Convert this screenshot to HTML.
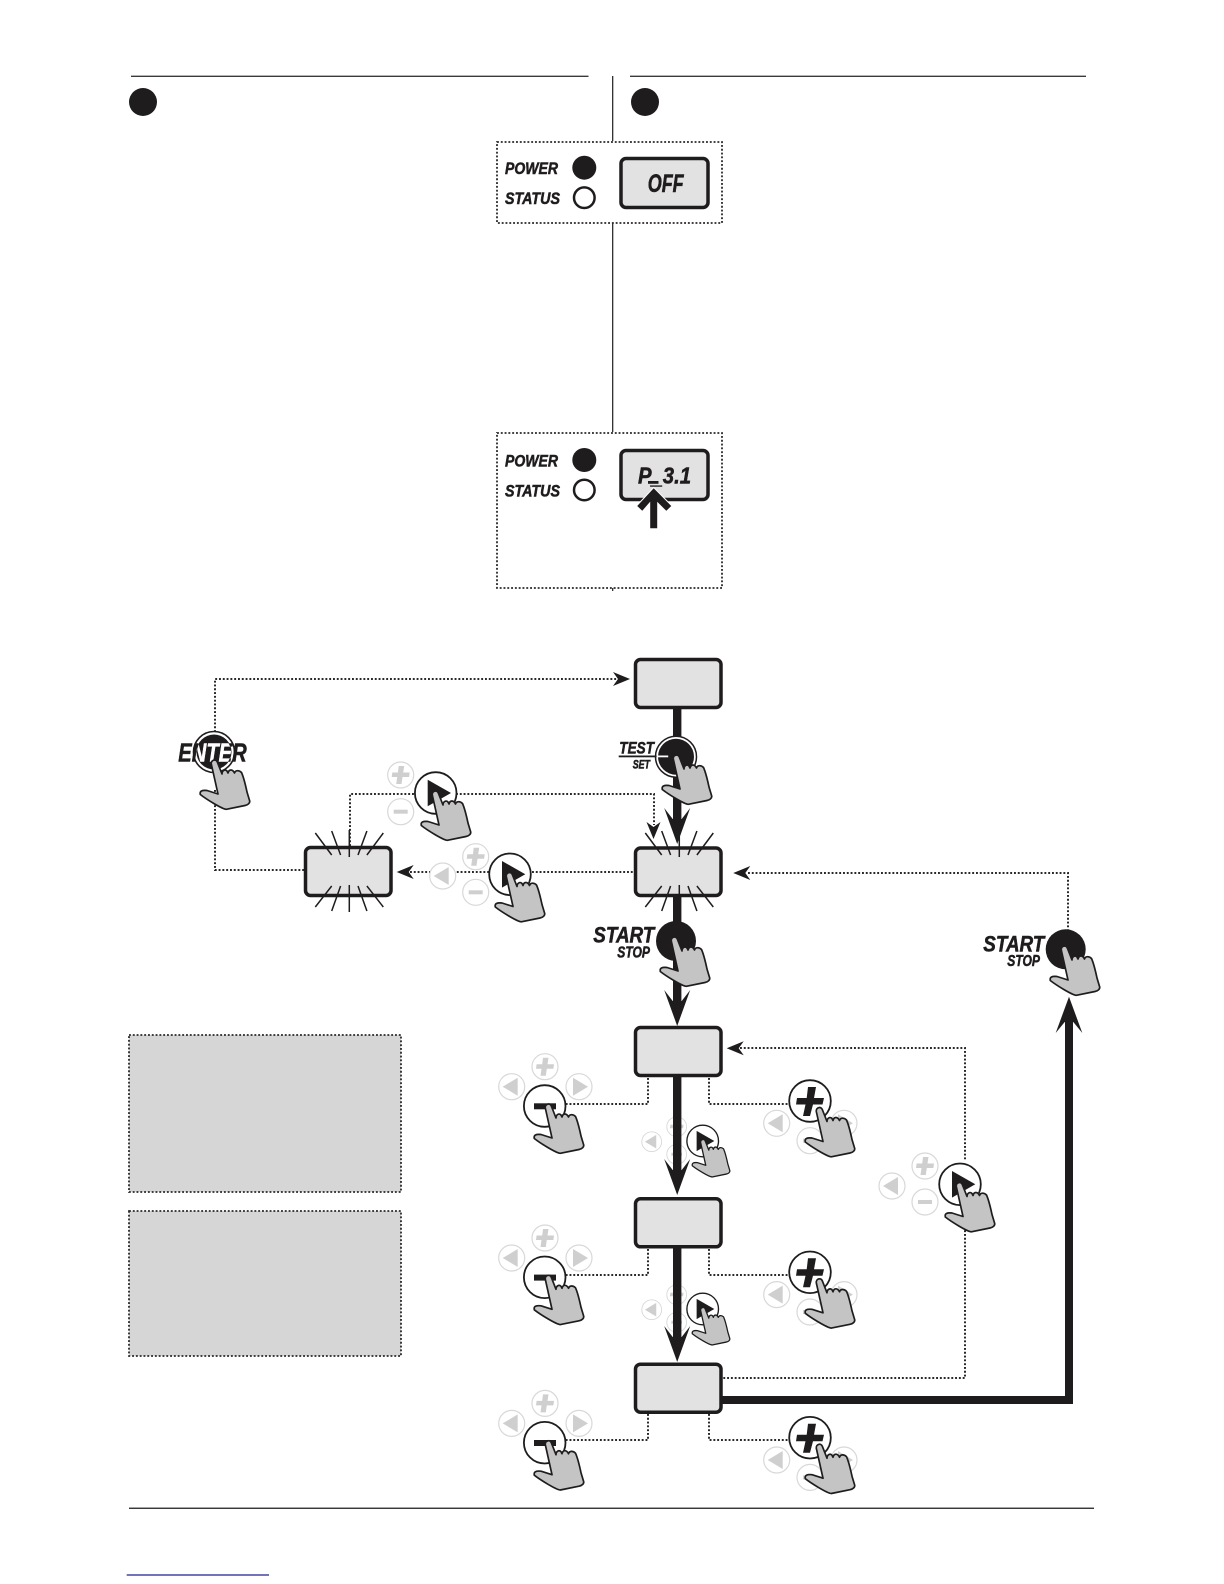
<!DOCTYPE html>
<html><head><meta charset="utf-8"><style>
html,body{margin:0;padding:0;background:#fff}
svg{display:block}
text{font-family:"Liberation Sans",sans-serif;font-weight:bold;font-style:italic;fill:#1f1c1d;stroke:#1f1c1d;stroke-width:.55}
.d{fill:none;stroke:#2a2829;stroke-width:2;stroke-dasharray:1.9 1.9}
.box{fill:#e2e2e2;stroke:#1f1c1d;stroke-width:3.5}
.panel{fill:#fff;stroke:#2a2829;stroke-width:1.8;stroke-dasharray:1.9 1.9}
.grey{fill:#d6d6d6;stroke:#2a2829;stroke-width:1.8;stroke-dasharray:1.9 1.9}
.ray{stroke:#1f1c1d;stroke-width:1.5;fill:none}
.sm{fill:#fff;stroke:#d8d8d8;stroke-width:1.2}
.ic{fill:#cfcfcf}
.bt{fill:#fff;stroke:#1f1c1d;stroke-width:1.8}
.bk{fill:#1f1c1d}
</style></head><body>
<svg xmlns="http://www.w3.org/2000/svg" width="1224" height="1584" viewBox="0 0 1224 1584">
<defs>
<path id="hand" fill="#c4c4c4" stroke="#1f1c1d" stroke-width="1.7" stroke-linejoin="round" d="M-2.7,3 C-3.2,-1 2,-2.5 3.3,1 L8,13 C8,9.5 11,8 13,10 L14,12 C15,8 18.5,8 20.5,12 C21.5,9 25,9 27.5,11.5 C30,17 31.5,24 33,31 L35.7,40 C36,42 34,44 31,44.5 L12.3,48.3 C8,48 -8,38 -13.7,33.5 C-14.5,30 -12,29 -7,29.5 L4,33 Z"/>
<g id="sP"><circle class="sm" r="13"/><path class="ic" d="M-2,-9 L3.5,-9 L2.5,-2.5 L9,-2.5 L8.4,2 L1.8,2 L0.8,9 L-4.5,9 L-3.5,2 L-9,2 L-8.4,-2.5 L-2.8,-2.5 Z"/></g>
<g id="sM"><circle class="sm" r="13"/><rect class="ic" x="-7" y="-2" width="14" height="4"/></g>
<g id="sL"><circle class="sm" r="13"/><path class="ic" d="M-9,0 L6,-9 L6,9 Z"/></g>
<g id="sR"><circle class="sm" r="13"/><path class="ic" d="M9,0 L-6,-9 L-6,9 Z"/></g>
<g id="bR"><circle class="bt" r="20.8"/><path class="bk" d="M-8,-13.3 L15.3,0 L-8,13.3 Z"/></g>
<g id="bM"><circle class="bt" r="20.8"/><rect class="bk" x="-10.7" y="-2.7" width="22" height="6"/></g>
<g id="bP"><circle class="bt" r="20.8"/><path class="bk" d="M-2,-14 L6,-14 L4,-3 L14,-3 L12.5,3.5 L3,3.5 L0,15 L-7,15 L-4.5,3.5 L-14,3.5 L-13,-3 L-3.3,-3 Z"/></g>
<g id="blink" class="ray"><path d="M-34,833 L-17.6,855 M-17.6,831 L-8.7,855 M0,830 L0,857 M17.6,831 L8.7,855 M34,833 L17.6,855 M-17.6,886 L-34,907 M-8.7,886 L-17.6,911 M0,885 L0,912 M8.7,886 L17.6,911 M17.6,886 L34,907"/></g>
<path id="ah" class="bk" d="M0,0 L13,-36 L4.5,-25 L-4.5,-25 L-13,-36 Z"/>
<path id="da" class="bk" d="M0,0 L-17,-7 L-12,0 L-17,7 Z"/>
<clipPath id="ec"><circle cx="214" cy="752" r="17"/></clipPath>
</defs>

<!-- header -->
<path d="M131,76.3H588.5M630,76.3H1086" stroke="#3a3a3a" stroke-width="1.3" fill="none"/>
<circle class="bk" cx="143" cy="102" r="14"/><circle class="bk" cx="645" cy="102" r="14"/>
<path d="M612.7,76V141M612.7,223V432M612.7,588V591" stroke="#1f1c1d" stroke-width="1.2" fill="none"/>

<!-- panel 1 -->
<rect class="panel" x="497" y="142" width="225" height="81"/>
<text x="505" y="174" font-size="17" textLength="53" lengthAdjust="spacingAndGlyphs">POWER</text>
<text x="505" y="204" font-size="17" textLength="55" lengthAdjust="spacingAndGlyphs">STATUS</text>
<circle class="bk" cx="584.3" cy="167.7" r="12"/>
<circle cx="584.3" cy="197.7" r="10.3" fill="#fff" stroke="#1f1c1d" stroke-width="2.5"/>
<rect class="box" x="621" y="158.5" width="87" height="49" rx="5"/>
<text x="647.7" y="192" font-size="25" textLength="36" lengthAdjust="spacingAndGlyphs">OFF</text>

<!-- panel 2 -->
<rect class="panel" x="497" y="433" width="225" height="155"/>
<text x="505" y="466.3" font-size="17" textLength="53" lengthAdjust="spacingAndGlyphs">POWER</text>
<text x="505" y="496.3" font-size="17" textLength="55" lengthAdjust="spacingAndGlyphs">STATUS</text>
<circle class="bk" cx="584.3" cy="460" r="12"/>
<circle cx="584.3" cy="490" r="10.3" fill="#fff" stroke="#1f1c1d" stroke-width="2.5"/>
<rect class="box" x="621" y="450.5" width="87" height="49" rx="5"/>
<text x="638" y="483.5" font-size="23" textLength="53" lengthAdjust="spacingAndGlyphs">P_3.1</text>
<rect class="bk" x="648" y="481" width="10.5" height="2.8"/>
<path class="bk" stroke="#fff" stroke-width="1" d="M653.7,487.5 L672,506 L666.3,511.5 L657.7,503 L657.7,528.7 L649.7,528.7 L649.7,503 L642.3,511.5 L636.5,506 Z"/>

<!-- grey boxes -->
<rect class="grey" x="129" y="1035" width="272" height="157"/>
<rect class="grey" x="129" y="1211" width="272" height="145"/>

<!-- dotted connectors -->
<path class="d" d="M215,732V679H618"/>
<path class="d" d="M215,790V870H304"/>
<path class="d" d="M350,846V794H416"/>
<path class="d" d="M456,794H654V825"/>
<path class="d" d="M410,872H432M453,872H490M532,872H634"/>
<path class="d" d="M748,873H1068V930"/>
<path class="d" d="M740,1048H965V1160M965,1215V1378H722"/>
<path class="d" d="M648,1078V1104H566M709,1078V1104H789"/>
<path class="d" d="M648,1249V1275H566M709,1249V1275H789"/>
<path class="d" d="M648,1414V1440H566M709,1414V1440H789"/>
<use href="#da" transform="translate(630,679)"/>
<use href="#da" transform="translate(396.7,872) rotate(180)"/>
<use href="#da" transform="translate(653.5,839) rotate(90)"/>
<use href="#da" transform="translate(733.3,873) rotate(180)"/>
<use href="#da" transform="translate(726.7,1048.3) rotate(180)"/>

<!-- small buttons under the shafts -->
<g>
<use href="#sP" x="400.7" y="775"/><use href="#sM" x="400.7" y="811.7"/>
<use href="#sL" x="442.7" y="876"/><use href="#sP" x="475.7" y="856.7"/><use href="#sM" x="475.7" y="892.3"/>
<use href="#sP" x="925" y="1166"/><use href="#sL" x="892" y="1186"/><use href="#sM" x="925" y="1202"/>
</g>
<g id="row1">
<use href="#sP" x="545" y="1066.7"/><use href="#sL" x="511.7" y="1086.7"/><use href="#sR" x="579" y="1086.7"/>
<use href="#sL" x="776.7" y="1123.3"/><use href="#sR" x="844" y="1123.3"/><use href="#sM" x="810" y="1140.7"/>
</g>
<use href="#row1" y="171.3"/>
<use href="#row1" y="336.7"/>
<g id="mini">
<g transform="translate(676.7,1126.7) scale(.76)"><use href="#sP"/></g>
<g transform="translate(651.7,1141.7) scale(.76)"><use href="#sL"/></g>
<g transform="translate(676.7,1154.3) scale(.76)"><use href="#sM"/></g>
</g>
<use href="#mini" y="168"/>

<!-- thick arrows -->
<rect class="bk" x="673" y="708" width="8.4" height="120"/>
<rect class="bk" x="673" y="896" width="8.4" height="115"/>
<rect class="bk" x="673" y="1076" width="8.4" height="105"/>
<rect class="bk" x="673" y="1247" width="8.4" height="100"/>
<use href="#ah" transform="translate(677.2,844)"/>
<use href="#ah" transform="translate(677.2,1026)"/>
<use href="#ah" transform="translate(677.2,1195)"/>
<use href="#ah" transform="translate(677.2,1362)"/>
<path d="M722,1400H1069V1020" fill="none" stroke="#1f1c1d" stroke-width="8"/>
<path class="bk" d="M1069,996.7 L1082.3,1033 L1073.3,1022 L1064.7,1022 L1055.7,1033 Z"/>

<!-- display boxes -->
<rect class="box" x="635.5" y="659.5" width="85.5" height="48" rx="5"/>
<rect class="box" x="635.5" y="848" width="85.5" height="47.5" rx="5"/>
<rect class="box" x="305.5" y="847.5" width="85.5" height="48" rx="5"/>
<rect class="box" x="635.5" y="1027.5" width="85.5" height="48" rx="5"/>
<rect class="box" x="635.5" y="1198.8" width="85.5" height="48" rx="5"/>
<rect class="box" x="635.5" y="1364.2" width="85.5" height="48" rx="5"/>
<use href="#blink" x="679.3"/>
<use href="#blink" x="349.3"/>

<!-- ENTER -->
<text x="178.3" y="761.7" font-size="25.5" textLength="68.4" lengthAdjust="spacingAndGlyphs">ENTER</text>
<circle cx="214" cy="752" r="20.5" fill="none" stroke="#1f1c1d" stroke-width="1.6"/>
<circle class="bk" cx="214" cy="752" r="17.5"/>
<g clip-path="url(#ec)"><text x="178.3" y="761.7" font-size="25.5" textLength="68.4" lengthAdjust="spacingAndGlyphs" style="fill:#fff;stroke:#fff">ENTER</text></g>
<use href="#hand" x="214" y="761"/>

<!-- TEST -->
<circle cx="676" cy="756.7" r="20.5" fill="#fff" stroke="#1f1c1d" stroke-width="1.5"/>
<circle class="bk" cx="676" cy="756.7" r="18"/>
<text x="619.3" y="753.3" font-size="17" textLength="34.7" lengthAdjust="spacingAndGlyphs">TEST</text>
<rect class="bk" x="618.7" y="755.5" width="38" height="1.8"/>
<rect x="656.7" y="755.5" width="11.5" height="1.8" fill="#fff"/>
<text x="632.7" y="768.3" font-size="11.5" textLength="17.3" lengthAdjust="spacingAndGlyphs">SET</text>
<use href="#hand" x="676" y="756"/>

<!-- START centre -->
<circle class="bk" cx="676" cy="941" r="20"/>
<text x="593.3" y="942.7" font-size="22.5" textLength="61" lengthAdjust="spacingAndGlyphs">START</text>
<text x="617.3" y="957.3" font-size="15.5" textLength="32.7" lengthAdjust="spacingAndGlyphs">STOP</text>
<use href="#hand" x="674" y="938"/>

<!-- START right -->
<circle class="bk" cx="1065.7" cy="949.3" r="20"/>
<text x="983.3" y="951.7" font-size="22.5" textLength="61" lengthAdjust="spacingAndGlyphs">START</text>
<text x="1007.3" y="966" font-size="15.5" textLength="32.7" lengthAdjust="spacingAndGlyphs">STOP</text>
<use href="#hand" x="1064" y="947"/>

<!-- arrow buttons -->
<use href="#bR" x="435.7" y="793"/><use href="#hand" x="435" y="792"/>
<use href="#bR" x="510" y="874.3"/><use href="#hand" x="509" y="873.5"/>
<use href="#bR" x="960" y="1184.3"/><use href="#hand" x="959" y="1183.5"/>
<g id="miniBtn" transform="translate(702.7,1141) scale(.76)"><use href="#bR"/><use href="#hand" y="-1"/></g>
<g transform="translate(702.7,1309) scale(.76)"><use href="#bR"/><use href="#hand" y="-1"/></g>

<!-- minus / plus rows -->
<g id="ctl">
<use href="#bM" x="544.7" y="1106"/><use href="#hand" x="548" y="1105"/>
<use href="#bP" x="810" y="1101"/><use href="#hand" x="819" y="1108.5"/>
</g>
<use href="#ctl" y="171.3"/>
<use href="#ctl" y="336.7"/>

<!-- footer -->
<rect x="129" y="1507.6" width="965" height="1.3" fill="#222"/>
<rect x="126.7" y="1574.4" width="142.3" height="1.2" fill="#16168a"/>
</svg>
</body></html>
